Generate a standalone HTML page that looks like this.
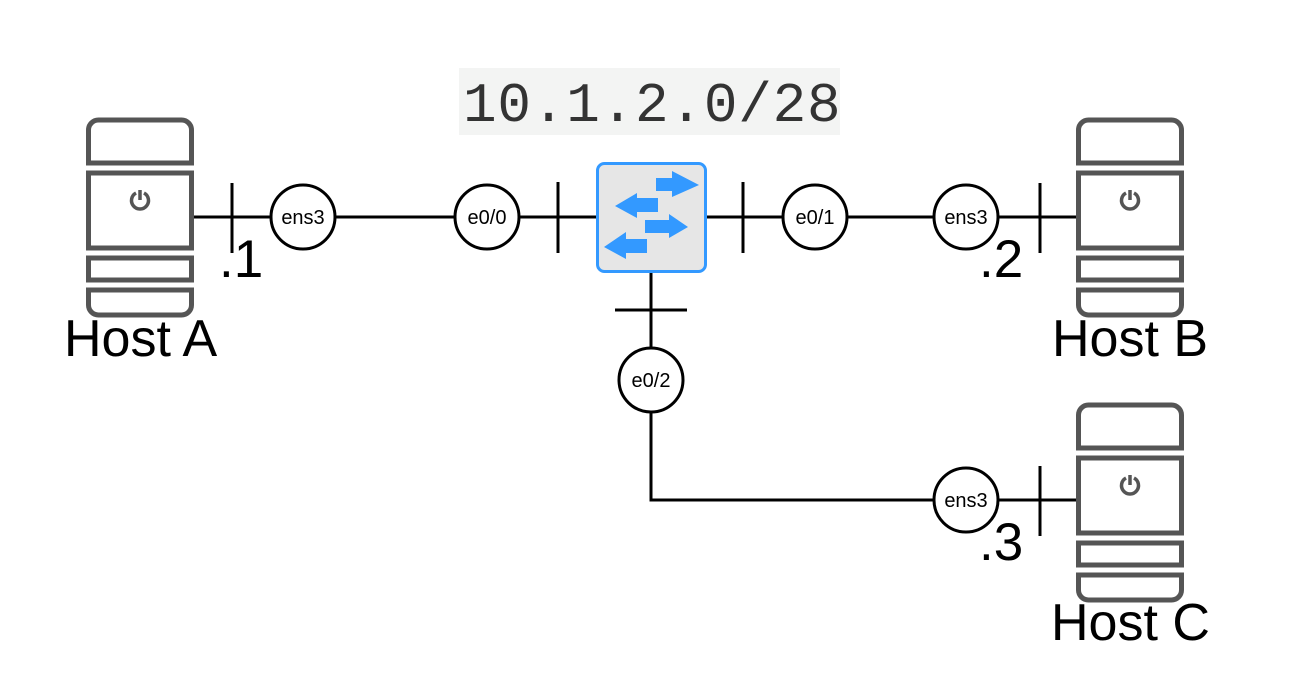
<!DOCTYPE html>
<html><head><style>html,body{margin:0;padding:0;background:#fff}svg{display:block}</style></head><body>
<svg width="1292" height="692" viewBox="0 0 1292 692" xmlns="http://www.w3.org/2000/svg">
<defs>
<g id="srv" fill="none" stroke="#555" stroke-width="5">
<path d="M2.5 45 V12 a10 10 0 0 1 10 -10 H95.5 a10 10 0 0 1 10 10 V45 Z"/>
<rect x="2.5" y="55" width="103" height="75"/>
<rect x="2.5" y="140" width="103" height="22"/>
<path d="M2.5 172 V187 a10 10 0 0 0 10 10 H95.5 a10 10 0 0 0 10 -10 V172 Z"/>
<path d="M50 75 a8.5 8.5 0 1 0 8 0" stroke-width="3.5"/>
<line x1="54" y1="72" x2="54" y2="82" stroke-width="3.5"/>
</g>
</defs>
<rect x="459" y="68" width="381" height="67" fill="#f3f4f3"/>
<text x="463" y="121" font-family="Liberation Mono, monospace" font-size="56" letter-spacing="0.8" fill="#333">10.1.2.0/28</text>

<g stroke="#000" stroke-width="3" fill="none">
<line x1="194" y1="217" x2="596" y2="217"/>
<line x1="707" y1="217" x2="1076" y2="217"/>
<polyline points="651,273 651,500 1076,500"/>
<line x1="232" y1="183" x2="232" y2="253"/>
<line x1="558" y1="182" x2="558" y2="253"/>
<line x1="743" y1="182" x2="743" y2="253"/>
<line x1="1040" y1="183" x2="1040" y2="253"/>
<line x1="1040" y1="466" x2="1040" y2="536"/>
<line x1="615" y1="310" x2="687" y2="310"/>
</g>
<g stroke="#000" stroke-width="3" fill="#fff">
<circle cx="303" cy="217" r="32"/>
<circle cx="487" cy="217" r="32"/>
<circle cx="815" cy="217" r="32"/>
<circle cx="966" cy="217" r="32"/>
<circle cx="651" cy="380" r="32"/>
<circle cx="966" cy="500" r="32"/>
</g>
<g font-family="Liberation Sans, sans-serif" font-size="20" text-anchor="middle" fill="#000">
<text x="303" y="224">ens3</text>
<text x="487" y="224">e0/0</text>
<text x="815" y="224">e0/1</text>
<text x="966" y="224">ens3</text>
<text x="651" y="387">e0/2</text>
<text x="966" y="507">ens3</text>
</g>

<use href="#srv" x="86" y="118"/>
<use href="#srv" x="1076" y="118"/>
<use href="#srv" x="1076" y="403"/>

<rect x="597.5" y="163.5" width="108" height="108" rx="7" fill="#e6e6e6" stroke="#3399ff" stroke-width="3"/>
<g fill="#3399ff">
<polygon points="656,178 672,178 672,171 699,185 672,197 672,191 656,191"/>
<polygon points="658,198 637,198 637,193 615,206 637,218 637,212 658,212"/>
<polygon points="645,220 669,220 669,214 688,227 669,238 669,233 645,233"/>
<polygon points="647,239 626,239 626,232 604,247 626,259 626,253 647,253"/>
</g>

<g font-family="Liberation Sans, sans-serif" font-size="53" fill="#000">
<text x="219" y="277">.1</text>
<text x="979" y="277">.2</text>
<text x="979" y="560">.3</text>
<text x="64" y="356" font-size="52">Host A</text>
<text x="1052" y="356" font-size="52">Host B</text>
<text x="1051" y="640" font-size="52">Host C</text>
</g>
</svg>
</body></html>
